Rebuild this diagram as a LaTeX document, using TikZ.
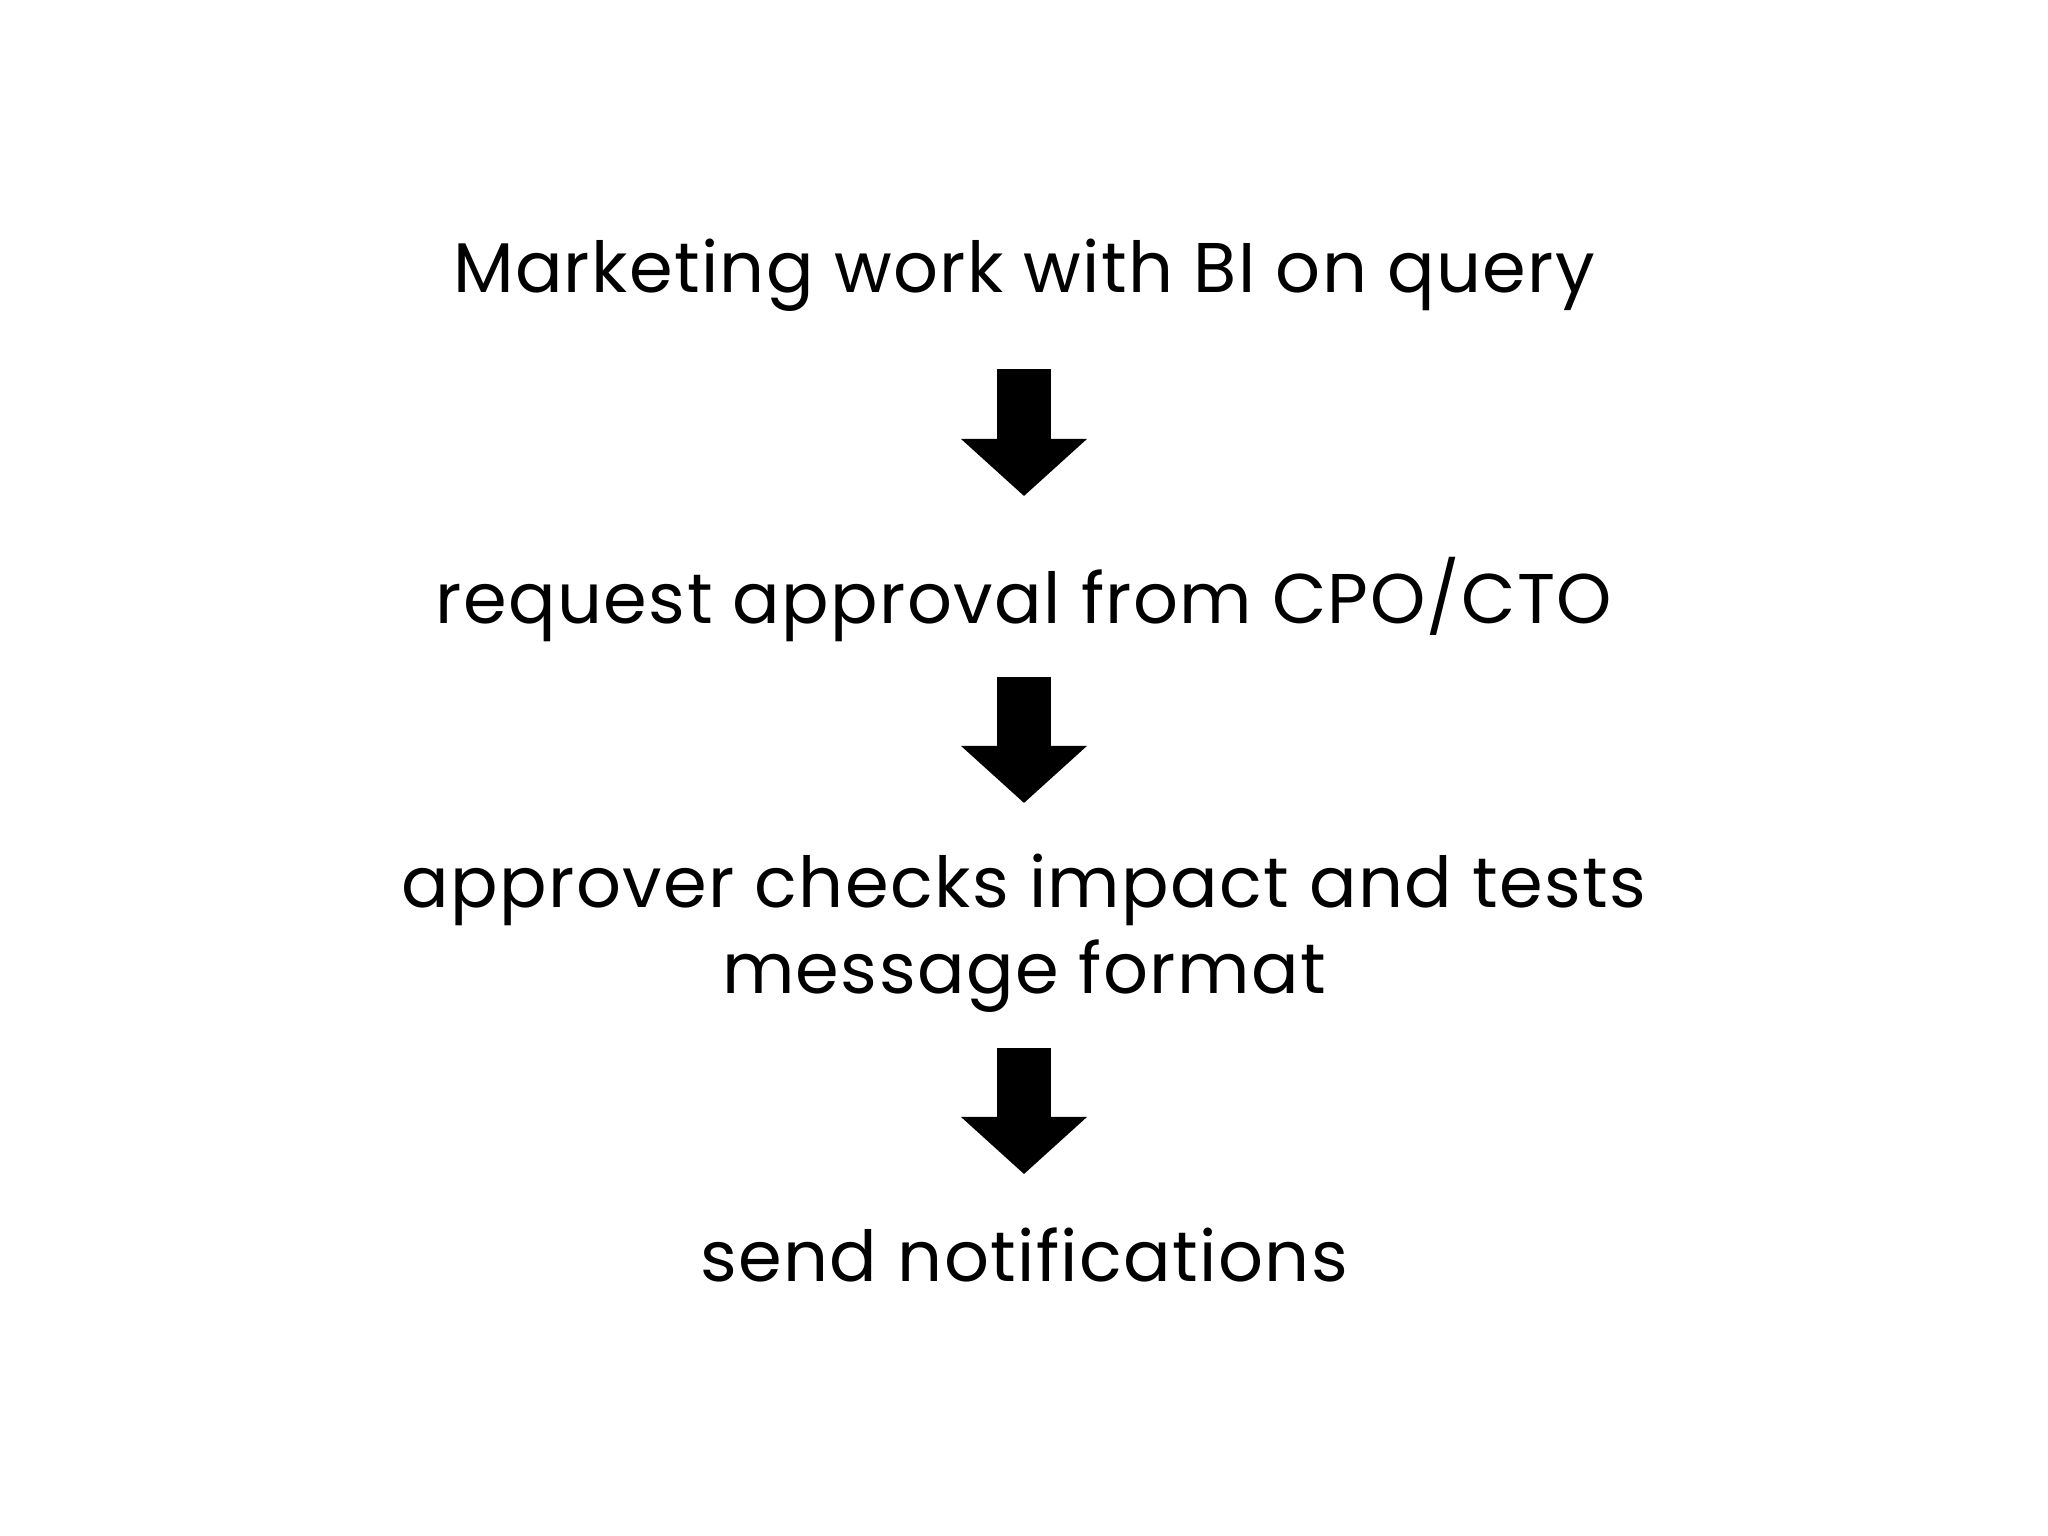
\documentclass[tikz,border=0pt]{standalone}
\usepackage{fontspec}
\setmainfont{Poppins}[LetterSpace=2]
\usetikzlibrary{arrows.meta}

\tikzset{
  stage/.style={anchor=base, inner sep=0pt, align=center,
    font=\fontsize{20}{24.2}\selectfont},
  bigarrow/.style={line width=0.54cm,
    -{Triangle[width=1.26cm, length=0.57cm, line width=0pt]}}
}

\begin{document}
\begin{tikzpicture}[x=0.01cm, y=-0.01cm]
  \useasboundingbox[fill=white] (0,0) rectangle (2048,1536);

  \node [stage] (query) at (1024,292) {Marketing work with BI on query};
  \node [stage] (request) at (1024,623) {request approval from CPO/CTO};
  % base of a two-line node is its last line
  \node [stage] (check) at (1024,993) {approver checks impact and tests\\message format};
  \node [stage] (send) at (1024,1281) {send notifications};

  \draw [bigarrow, shorten <=0.77cm, shorten >=1.27cm] (query.base) -- (request.base);
  \draw [bigarrow, shorten <=0.54cm, shorten >=1.05cm] (request.base) -- ([yshift=0.85cm]check.base);
  \draw [bigarrow, shorten <=0.55cm, shorten >=1.07cm] (check.base) -- (send.base);
\end{tikzpicture}
\end{document}
